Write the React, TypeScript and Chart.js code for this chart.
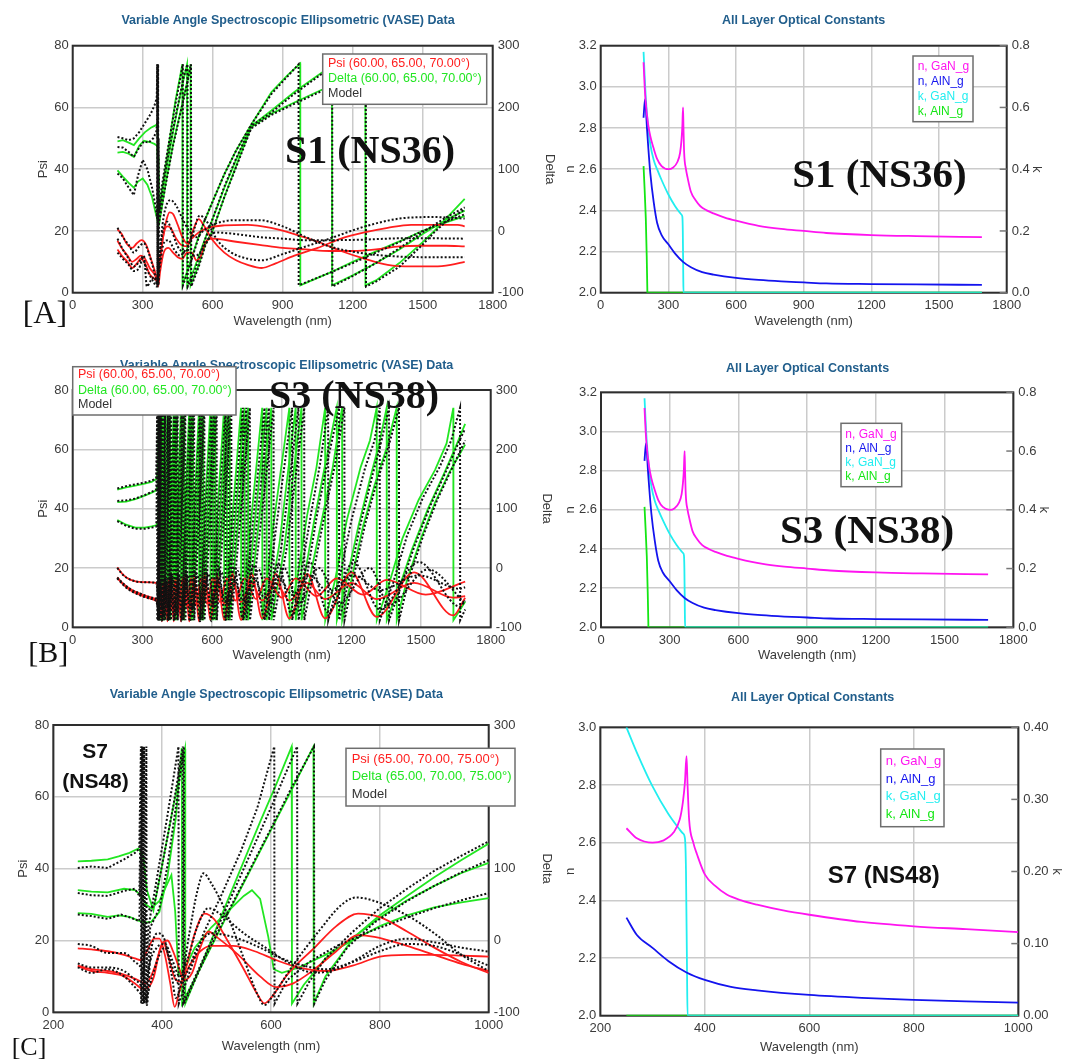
import React, { useEffect, useRef } from "react";
import { Chart, registerables } from "chart.js";

Chart.register(...registerables);
Chart.defaults.font.family = '"Liberation Sans", Arial, Helvetica, sans-serif';
Chart.defaults.color = "#3a3a3a";

type Pt = [number, number];

// ===================== [A] S1 (NS36) : VASE data (60, 65, 70°) =====================
const A_PSI_1: Pt[] = [[192,20.5],[210,19],[230,16],[255,14.5],[275,16],[295,17],[315,15.5],[335,11],[352,7],[362,4],[366,2.5],[372,8],[385,17],[400,23],[415,26],[430,25.5],[450,22],[470,18],[490,16],[510,17.5],[540,19.5],[580,21],[650,21.8],[750,22],[850,21],[950,19],[1050,16.5],[1150,13.5],[1250,11],[1350,9],[1450,8.5],[1550,8.5],[1620,9],[1680,10]];
const A_PSI_2: Pt[] = [[192,16.8],[210,14.5],[235,12],[255,10],[275,11],[292,12],[310,11],[330,8],[350,6],[362,4],[366,3],[374,10],[390,19],[405,21.5],[420,21],[440,18],[465,15.5],[490,15],[515,20],[540,23.8],[560,22],[600,17],[650,13],[700,10.5],[750,9],[810,8],[870,9.5],[950,12],[1050,14.5],[1150,17.5],[1250,19.5],[1350,21],[1450,22],[1550,22],[1650,22],[1680,21.5]];
const A_PSI_3: Pt[] = [[192,14],[210,12],[235,10],[255,8],[275,9.5],[292,11],[310,9.5],[330,6],[350,4.5],[362,3.5],[366,2],[375,7],[390,13],[410,14.5],[430,13],[450,11.5],[470,11],[490,13],[510,13],[530,10.5],[550,12],[570,16.5],[600,17.5],[700,16.5],[800,15.5],[900,14.5],[1000,14],[1100,13.5],[1200,13.5],[1300,14],[1400,15],[1500,15.2],[1600,15.2],[1680,15]];
const A_DEL_1: Pt[] = [[192,145],[215,147],[240,143],[262,139],[285,150],[310,160],[335,167],[355,171],[363,173],[366,120],[368,25],[380,60],[400,110],[420,160],[440,210],[460,250],[470,270],[470.5,-88],[500,-55],[530,-20],[560,12],[600,48],[650,92],[700,130],[765,172],[852,225],[920,252],[975,271],[975.5,-88],[1100,-68],[1200,-50],[1300,-33],[1400,-17],[1500,0],[1600,14],[1680,24]];
const A_DEL_2: Pt[] = [[192,127],[215,128],[240,125],[262,120],[285,138],[305,146],[330,144],[350,141],[362,138],[366,90],[369,15],[390,75],[420,140],[450,200],[475,245],[490,270],[490.5,-88],[520,-62],[560,-20],[600,20],[650,70],[700,115],[765,170],[852,195],[950,225],[1070,257],[1111,270],[1111.5,-88],[1200,-72],[1300,-52],[1400,-30],[1500,-5],[1600,18],[1680,33]];
const A_DEL_3: Pt[] = [[192,98],[215,88],[240,78],[262,70],[280,80],[300,85],[320,75],[340,55],[355,30],[362,20],[366,10],[370,10],[400,80],[430,140],[460,190],[490,240],[505,270],[505.5,-88],[540,-55],[570,-20],[600,0],[650,55],[700,105],[765,168],[852,190],[950,208],[1070,229],[1150,248],[1254,270],[1254.5,-88],[1300,-80],[1400,-52],[1500,-18],[1550,0],[1600,20],[1680,52]];
const A_MPSI_1: Pt[] = [[192,21],[215,18],[240,15.5],[262,13],[285,15],[305,16],[325,13],[345,8],[358,4],[365,2],[372,10],[385,22],[400,28],[420,30],[445,28],[470,24],[500,20],[530,18],[560,20],[600,22],[700,23.5],[800,23.5],[900,21.5],[1000,18],[1100,15],[1250,12.7],[1400,11.7],[1550,11.5],[1680,11.5]];
const A_MPSI_2: Pt[] = [[192,17.5],[215,14],[240,11],[262,8.5],[285,10],[305,12],[318,2],[335,4],[350,5],[360,3],[366,5],[375,14],[390,21],[405,23],[425,20],[450,15],[480,13],[510,18],[545,25],[575,23],[620,17],[680,13],[750,11],[810,10.5],[900,12.5],[1000,15],[1100,17.5],[1250,21.4],[1400,24],[1550,24.5],[1680,24]];
const A_MPSI_3: Pt[] = [[192,13],[215,11],[240,9],[262,7],[285,8],[300,11],[315,8],[335,5],[350,3],[360,2],[366,4],[376,10],[390,16],[410,17],[435,14],[460,12],[490,14],[520,12],[540,12.5],[570,16],[610,19.5],[700,19],[800,18],[900,17.5],[1000,17],[1100,17],[1250,17.2],[1400,17.6],[1550,17.6],[1680,17.5]];
const A_MDEL_1: Pt[] = [[192,152],[215,150],[240,147],[262,150],[285,160],[310,175],[335,190],[352,205],[360,215],[363,270],[363.5,-88],[365,270],[365.5,-88],[368,150],[371,30],[380,68],[400,115],[420,160],[440,205],[460,245],[472,270],[472.5,-88],[500,-58],[530,-22],[560,12],[600,48],[650,92],[700,130],[765,172],[852,222],[920,250],[968,270],[968.5,-88],[1100,-68],[1200,-52],[1300,-35],[1400,-18],[1500,0],[1600,15],[1680,27]];
const A_MDEL_2: Pt[] = [[192,136],[215,135],[240,128],[262,120],[285,135],[305,145],[325,143],[345,150],[358,160],[362,175],[363,270],[364,-88],[366,270],[367,-88],[370,20],[390,80],[420,145],[450,202],[475,248],[492,270],[493,-90],[520,-68],[560,-22],[600,20],[650,72],[700,117],[765,170],[852,192],[950,222],[1070,255],[1112,270],[1113,-90],[1200,-73],[1300,-52],[1400,-28],[1500,-2],[1600,22],[1680,38]];
const A_MDEL_3: Pt[] = [[192,93],[215,85],[240,70],[262,58],[280,90],[300,115],[320,100],[340,70],[355,40],[362,20],[364,270],[365,-88],[368,10],[400,78],[430,138],[460,188],[490,238],[507,270],[508,-90],[540,-58],[570,-22],[600,2],[650,55],[700,103],[765,166],[852,188],[950,206],[1070,227],[1150,246],[1256,270],[1257,-90],[1300,-82],[1400,-58],[1500,-22],[1550,-2],[1600,15],[1680,35]];

// ===================== [B] S3 (NS38) : VASE data (60, 65, 70°) =====================
const B_PSI_1: Pt[] = [[192,20.2],[220,17.5],[250,16],[300,15.2],[360,15],[368,12],[374,3],[379,12],[384,2],[396,15],[408,2],[421,16],[435,2],[450,16],[466,2],[484,17],[502,2],[523,17],[544,2],[568,17.5],[593,2.5],[622,17.5],[652,2.5],[688,18],[725,2.5],[770,18],[816,3],[875,18],[933,3],[1010,18],[1087,3],[1200,18.5],[1309,3.5],[1470,18.5],[1639,4],[1690,10]];
const B_PSI_2: Pt[] = [[192,16.8],[220,14.5],[250,12.8],[300,11],[340,10],[360,9.5],[370,9],[376,14],[384,5],[396,14],[408,5],[421,14.5],[435,5.5],[450,15],[466,6],[484,15],[502,6.5],[523,15],[544,7],[568,15],[593,7.5],[622,15],[652,8],[688,15],[725,8.5],[770,15],[816,9],[875,15],[933,9],[1010,15],[1087,9.5],[1200,15],[1309,9.5],[1470,15],[1639,10],[1690,10.5]];
const B_PSI_3: Pt[] = [[192,16.6],[220,14.2],[250,12.4],[300,10.6],[340,9.6],[360,9],[370,8.5],[378,4],[390,15],[402,5],[414,16],[428,6],[441,16],[457,6],[473,16.5],[491,7],[510,16.5],[531,7.5],[553,16.5],[578,8],[604,16.5],[634,8.5],[664,16.5],[700,9],[740,16.5],[790,9.5],[835,16.5],[900,10],[960,16.5],[1050,10.5],[1137,16.5],[1250,11],[1352,16],[1520,11],[1690,15.4]];
const B_DEL_1: Pt[] = [[192,132],[230,136],[270,139],[310,142],[340,145],[360,150],[366,160],[372,270],[372.5,-88],[384,270],[384.5,-88],[408,270],[408.5,-88],[435,270],[435.5,-88],[466,270],[466.5,-88],[502,270],[502.5,-88],[544,270],[544.5,-88],[593,270],[593.5,-88],[652,270],[652.5,-88],[725,270],[725.5,-88],[816,270],[816.5,-88],[860,60],[933,270],[933.5,-88],[970,-10],[1010,90],[1050,170],[1087,270],[1087.5,-88],[1130,-20],[1180,80],[1240,170],[1280,215],[1309,270],[1309.5,-88],[1360,-30],[1420,50],[1490,115],[1560,165],[1610,210],[1639,270],[1639.5,-88],[1690,-57]];
const B_DEL_2: Pt[] = [[192,111],[230,112],[270,116],[310,122],[340,127],[360,131],[368,140],[378,270],[378.5,-88],[390,270],[390.5,-88],[414,270],[414.5,-88],[441,270],[441.5,-88],[473,270],[473.5,-88],[510,270],[510.5,-88],[553,270],[553.5,-88],[604,270],[604.5,-88],[664,270],[664.5,-88],[740,270],[740.5,-88],[835,270],[835.5,-88],[890,40],[960,270],[960.5,-88],[1000,-10],[1040,80],[1090,180],[1137,270],[1137.5,-88],[1180,-20],[1230,70],[1280,150],[1320,210],[1352,270],[1352.5,-88],[1400,-40],[1460,30],[1530,100],[1600,160],[1650,205],[1690,243]];
const B_DEL_3: Pt[] = [[192,81],[230,73],[270,68],[310,68],[340,70],[360,72],[368,80],[381,270],[381.5,-88],[395,270],[395.5,-88],[420,270],[420.5,-88],[448,270],[448.5,-88],[480,270],[480.5,-88],[518,270],[518.5,-88],[562,270],[562.5,-88],[614,270],[614.5,-88],[676,270],[676.5,-88],[755,270],[755.5,-88],[855,270],[855.5,-88],[910,30],[985,270],[985.5,-88],[1030,0],[1080,95],[1120,170],[1160,270],[1160.5,-88],[1200,-20],[1250,70],[1300,140],[1350,200],[1395,270],[1395.5,-88],[1440,-20],[1500,50],[1560,110],[1620,160],[1690,208]];
const B_MPSI_1: Pt[] = [[192,20],[220,17.4],[250,16],[300,15.2],[360,15],[366,10],[371,2],[377,14],[386,2],[398,17],[410,2],[423,18],[437,2],[453,18],[469,2],[487,19],[505,2],[526,19],[548,2],[573,19.5],[598,2],[628,20],[658,2.5],[695,20.5],[733,3],[780,21],[826,3],[885,21.5],[945,4],[1020,22],[1100,5],[1210,22],[1322,6],[1490,22],[1668,7],[1690,9]];
const B_MPSI_2: Pt[] = [[192,16.8],[220,14.6],[250,12.8],[300,11.1],[340,10],[360,9.6],[368,7],[375,15],[386,6],[398,15],[410,6],[423,15],[437,6.5],[453,15.5],[469,7],[487,15.5],[505,7.5],[526,16],[548,8],[573,16],[598,8],[628,16],[658,8.5],[695,16],[733,9],[780,16.5],[826,10],[885,17],[945,11],[1020,17.5],[1100,12],[1210,17.5],[1322,12.5],[1490,17.5],[1668,13],[1690,13.5]];
const B_MPSI_3: Pt[] = [[192,16.5],[220,14.1],[250,12.3],[300,10.5],[340,9.5],[360,8.8],[368,6],[380,16],[392,4],[404,16],[417,5],[430,17],[445,5],[460,17],[477,5.5],[495,17.5],[515,6],[536,18],[558,6.5],[584,18],[610,7],[641,18.5],[671,7.5],[710,19],[748,8],[800,19.5],[845,8],[910,20],[972,8],[1060,20],[1147,8],[1280,20],[1362,7.5],[1530,19.5],[1690,8]];
const B_MDEL_1: Pt[] = [[192,134],[230,138],[270,141],[310,144],[340,147],[360,152],[364,270],[364.5,-88],[368,270],[368.5,-88],[375,270],[375.5,-88],[386,270],[386.5,-88],[410,270],[410.5,-88],[437,270],[437.5,-88],[469,270],[469.5,-88],[505,270],[505.5,-88],[548,270],[548.5,-88],[598,270],[598.5,-88],[658,270],[658.5,-88],[733,270],[733.5,-88],[826,270],[826.5,-88],[870,50],[945,270],[945.5,-88],[985,-5],[1030,100],[1065,175],[1100,270],[1100.5,-88],[1150,-15],[1200,80],[1260,170],[1300,215],[1322,270],[1322.5,-88],[1380,-25],[1440,55],[1510,120],[1580,170],[1630,215],[1668,270],[1668.5,-88],[1690,-70]];
const B_MDEL_2: Pt[] = [[192,113],[230,114],[270,117],[310,123],[340,128],[360,133],[366,270],[366.5,-88],[371,270],[371.5,-88],[380,270],[380.5,-88],[393,270],[393.5,-88],[417,270],[417.5,-88],[445,270],[445.5,-88],[477,270],[477.5,-88],[515,270],[515.5,-88],[558,270],[558.5,-88],[610,270],[610.5,-88],[671,270],[671.5,-88],[748,270],[748.5,-88],[845,270],[845.5,-88],[900,40],[972,270],[972.5,-88],[1010,-10],[1050,85],[1100,185],[1147,270],[1147.5,-88],[1190,-20],[1240,75],[1290,155],[1330,215],[1362,270],[1362.5,-88],[1410,-35],[1470,35],[1540,105],[1610,165],[1660,210],[1690,235]];
const B_MDEL_3: Pt[] = [[192,79],[230,71],[270,66],[310,66],[340,68],[360,70],[367,270],[367.5,-88],[373,270],[373.5,-88],[383,270],[383.5,-88],[398,270],[398.5,-88],[423,270],[423.5,-88],[452,270],[452.5,-88],[485,270],[485.5,-88],[523,270],[523.5,-88],[567,270],[567.5,-88],[620,270],[620.5,-88],[683,270],[683.5,-88],[763,270],[763.5,-88],[865,270],[865.5,-88],[920,30],[997,270],[997.5,-88],[1040,0],[1090,100],[1130,175],[1170,270],[1170.5,-88],[1210,-15],[1260,75],[1310,145],[1360,205],[1405,270],[1405.5,-88],[1450,-15],[1510,55],[1570,115],[1630,165],[1690,215]];

// ===================== [C] S7 (NS48) : VASE data (65, 70, 75°) =====================
const C_PSI_1: Pt[] = [[245,17.8],[270,17.5],[300,17],[330,16],[350,15],[362,14.5],[372,17],[385,20.5],[395,20.5],[405,16],[415,8],[423,1.5],[432,6],[445,13],[460,22],[478,27.5],[495,26],[520,20],[550,12],[575,5],[588,2.5],[600,4],[630,10.5],[680,18],[720,24],[760,27.5],[800,26.5],[850,22.5],[900,18],[950,14],[1000,11]];
const C_PSI_2: Pt[] = [[245,13],[270,12],[300,11.5],[330,10.5],[355,9],[370,8],[385,12],[400,19],[410,20],[420,17],[432,12],[440,9],[455,11],[470,18],[485,22.5],[500,21],[540,16],[580,10],[610,7],[640,8],[680,12],[720,17],[760,21.5],[790,21],[850,18.5],[900,16],[950,13.5],[1000,11.5]];
const C_PSI_3: Pt[] = [[245,12.8],[270,11.5],[300,11],[330,10],[350,8],[365,6.5],[375,7],[385,10],[395,17],[402,19.5],[412,15],[425,9],[435,8.5],[450,13],[470,17],[490,18.5],[530,18.5],[570,17],[610,14.5],[650,12.5],[700,11.5],[750,13],[800,15.5],[850,16],[900,16],[950,15.8],[1000,15.5]];
const C_DEL_1: Pt[] = [[245,110],[270,111],[300,113],[320,117],[340,122],[356,128],[365,118],[372,70],[384,42],[400,105],[420,185],[442,267],[442.5,-88],[500,18],[540,92],[580,165],[610,218],[638,270],[638.5,-88],[660,-62],[700,-25],[753,5],[800,35],[850,62],[900,88],[950,112],[1000,135]];
const C_DEL_2: Pt[] = [[245,70],[270,68],[300,67],[330,72],[350,70],[362,62],[370,50],[380,45],[395,55],[410,80],[417,91],[424,40],[430,-48],[440,-42],[460,-10],[490,18],[520,40],[550,62],[565,70],[580,58],[595,5],[605,-40],[620,-45],[650,-38],[700,-20],[750,0],[800,20],[850,35],[900,46],[950,53],[1000,59]];
const C_DEL_3: Pt[] = [[245,38],[270,37],[300,33],[320,35],[340,33],[355,28],[368,25],[380,26],[395,40],[410,90],[425,170],[436,268],[436.5,-88],[480,-24],[520,36],[560,95],[600,154],[640,213],[678,270],[678.5,-88],[700,-50],[753,5],[800,32],[850,56],[900,76],[950,94],[1000,108]];
const C_MPSI_1: Pt[] = [[245,19],[270,18.5],[300,16.5],[330,16.5],[350,14],[362,12],[368,8],[372,2],[378,15],[392,22],[405,20],[418,10],[425,4],[435,8],[450,22],[465,34],[476,38.7],[490,36],[520,27],[550,15],[575,5],[588,2],[605,5],[640,13],[690,23],[730,30],[757,32],[790,31],[850,27],[900,22],[950,16],[1000,11.5]];
const C_MPSI_2: Pt[] = [[245,13.6],[270,12.5],[300,12.5],[330,11.5],[350,9],[362,7],[368,3],[375,12],[390,18],[405,19],[420,14],[432,10],[445,14],[465,24],[485,29],[510,27],[550,22],[590,18],[630,14],[680,11],[720,12],[760,15],[800,18.5],[850,20.5],[900,19.5],[950,18],[1000,16.9]];
const C_MPSI_3: Pt[] = [[245,12.5],[270,11],[300,12],[330,10],[350,7],[362,5],[370,4],[380,9],[395,16],[405,18],[418,13],[430,8],[445,11],[465,18],[490,22],[530,21],[580,18],[620,15],[660,13],[700,12],[750,14],[800,17],[850,19],[900,18.5],[950,16],[1000,13]];
const C_MDEL_1: Pt[] = [[245,101],[270,103],[300,101],[330,113],[350,122],[358,128],[361,270],[361.5,-88],[364,270],[364.5,-88],[370,40],[385,48],[400,105],[420,185],[438,270],[438.5,-88],[500,15],[550,100],[600,185],[648,270],[648.5,-88],[670,-58],[700,-25],[750,12],[800,45],[850,72],[900,97],[950,118],[1000,138]];
const C_MDEL_2: Pt[] = [[245,66],[270,63],[300,62],[330,69],[350,72],[358,62],[363,270],[363.5,-88],[367,270],[367.5,-88],[375,20],[390,85],[410,175],[430,270],[430.5,-88],[450,-45],[476,10],[510,65],[545,125],[575,185],[606,270],[606.5,-88],[630,-55],[670,-30],[720,-8],[780,12],[850,32],[900,45],[950,56],[1000,66]];
const C_MDEL_3: Pt[] = [[245,36],[270,34],[300,30],[325,36],[345,31],[358,27],[366,270],[366.5,-88],[371,270],[371.5,-88],[378,18],[395,45],[410,105],[425,185],[440,270],[440.5,-88],[480,-22],[520,38],[560,97],[600,156],[640,216],[679,270],[679.5,-88],[700,-55],[740,-10],[790,25],[850,55],[900,76],[950,95],[1000,112]];

// ===================== Optical constants (n, k of GaN_g and AlN_g) =====================
const N_GAN: Pt[] = [[190,3.12],[195,3.0],[200,2.92],[210,2.82],[220,2.76],[235,2.70],[250,2.65],[270,2.615],[300,2.60],[320,2.607],[340,2.635],[352,2.68],[358,2.74],[362,2.81],[365,2.90],[367,2.80],[370,2.68],[378,2.60],[385,2.56],[400,2.49],[420,2.45],[442,2.42],[470,2.40],[500,2.385],[550,2.365],[600,2.35],[700,2.325],[800,2.31],[900,2.30],[1000,2.29],[1200,2.28],[1400,2.275],[1690,2.27]];
const N_ALN: Pt[] = [[190,2.85],[193,2.9],[197,2.94],[200,2.9],[205,2.8],[210,2.72],[220,2.58],[235,2.44],[250,2.34],[270,2.28],[300,2.235],[330,2.19],[365,2.15],[400,2.124],[450,2.10],[500,2.088],[600,2.072],[700,2.062],[800,2.055],[900,2.05],[1000,2.045],[1200,2.042],[1400,2.04],[1690,2.038]];
const K_GAN: Pt[] = [[190,0.78],[195,0.70],[200,0.63],[210,0.54],[220,0.48],[235,0.43],[250,0.40],[270,0.365],[300,0.318],[330,0.28],[350,0.26],[358,0.253],[362,0.246],[364,0.2],[366,0.06],[367,0],[1000,0],[1690,0]];
const K_ALN: Pt[] = [[190,0.41],[195,0.33],[200,0.24],[204,0.12],[207,0],[250,0],[1000,0],[1690,0]];

// ===================== Text =====================
const VASE_TITLE = "Variable Angle Spectroscopic Ellipsometric (VASE) Data";
const NK_TITLE = "All Layer Optical Constants";
const LEG_AB = ["Psi (60.00, 65.00, 70.00°)", "Delta (60.00, 65.00, 70.00°)", "Model"];
const LEG_C = ["Psi (65.00, 70.00, 75.00°)", "Delta (65.00, 70.00, 75.00°)", "Model"];
const LEG_NK = ["n, GaN_g", "n, AlN_g", "k, GaN_g", "k, AlN_g"];

// ===================== Styles =====================
const RED = "#ff1e1e";
const GREEN = "#22e622";
const MODEL = "#111111";
const MAGENTA = "#ff14f0";
const BLUE = "#1414ee";
const CYAN = "#22eef0";
const KGREEN = "#14e614";
const GRID = "#cbcbcb";
const FRAME = "#2e2e2e";
const TITLE_COLOR = "#215e8c";
const TITLE_FONT = 'bold 12.5px "Liberation Sans", Arial, sans-serif';
const SERIF_BIG = (px: number) => `bold ${px}px "Liberation Serif", "Times New Roman", serif`;
const SERIF = (px: number) => `${px}px "Liberation Serif", "Times New Roman", serif`;
const SANS_BOLD = (px: number) => `bold ${px}px "Liberation Sans", Arial, sans-serif`;
const SANS = (px: number) => `${px}px "Liberation Sans", Arial, sans-serif`;

const inRange = (pts: Pt[], lo: number, hi: number) => pts.filter((p) => p[0] >= lo && p[0] <= hi);

const line = (data: Pt[], color: string, axis: string, smooth: boolean, width = 1.8) => ({
  data,
  borderColor: color,
  backgroundColor: color,
  borderWidth: width,
  pointRadius: 0,
  yAxisID: axis,
  tension: 0,
  cubicInterpolationMode: smooth ? "monotone" : "default",
  fill: false,
});
const model = (data: Pt[], axis: string, smooth: boolean) => ({
  ...line(data, MODEL, axis, smooth, 2),
  borderDash: [2, 2],
});

interface TextItem { text: string; x: number; y: number; font: string; color: string; align?: CanvasTextAlign }
interface LegendSpec { x: number; y: number; w: number; h: number; textX: number; ys: number[]; font: string; items: { text: string; color: string }[] }
interface PanelSpec {
  id: string;
  left: number; top: number; width: number; height: number;
  area: { L: number; T: number; R: number; B: number };
  leftTitle: string; leftTitleX: number;
  rightTitle: string; rightTitleX: number;
  bottomTitleY: number;
  x: [number, number, number];
  y: [number, number, number, number];
  y2: [number, number, number, number];
  innerTicks?: boolean;
  datasets: any[];
  title: { text: string; x: number; y: number };
  legend: LegendSpec;
  labels: TextItem[];
}

const vaseDatasets = (mp: Pt[][], md: Pt[][], p: Pt[][], d: Pt[][]) => [
  ...mp.map((s) => model(s, "y", true)),
  ...md.map((s) => model(s, "y2", false)),
  ...p.map((s) => line(s, RED, "y", true)),
  ...d.map((s) => line(s, GREEN, "y2", false)),
];
const nkDatasets = (lo: number, hi: number) => [
  line(inRange(N_GAN, lo, hi), MAGENTA, "y", true, 1.8),
  line(inRange(N_ALN, lo, hi), BLUE, "y", true, 1.8),
  line(inRange(K_GAN, lo, hi), CYAN, "y2", true, 1.8),
  line(inRange(K_ALN, lo, hi), KGREEN, "y2", false, 1.8),
];
const vaseLegend = (labels: string[]) => [
  { text: labels[0], color: RED },
  { text: labels[1], color: GREEN },
  { text: labels[2], color: "#333333" },
];
const nkLegend = [
  { text: LEG_NK[0], color: MAGENTA },
  { text: LEG_NK[1], color: BLUE },
  { text: LEG_NK[2], color: CYAN },
  { text: LEG_NK[3], color: KGREEN },
];

const PANELS: PanelSpec[] = [
  {
    id: "A1", left: 0, top: 0, width: 565, height: 335,
    area: { L: 72.7, T: 45.7, R: 492.7, B: 292.7 },
    leftTitle: "Psi", leftTitleX: 43.3, rightTitle: "Delta", rightTitleX: 549.5, bottomTitleY: 321.7,
    x: [0, 1800, 300], y: [0, 80, 20, 0], y2: [-100, 300, 100, 0],
    datasets: vaseDatasets([A_MPSI_1, A_MPSI_2, A_MPSI_3], [A_MDEL_1, A_MDEL_2, A_MDEL_3], [A_PSI_1, A_PSI_2, A_PSI_3], [A_DEL_1, A_DEL_2, A_DEL_3]),
    title: { text: VASE_TITLE, x: 288, y: 20.7 },
    legend: { x: 322.7, y: 54, w: 164, h: 50.3, textX: 328, ys: [63.3, 79, 94], font: SANS(12.5), items: vaseLegend(LEG_AB) },
    labels: [
      { text: "S1 (NS36)", x: 285, y: 163, font: SERIF_BIG(40), color: "#111" },
      { text: "[A]", x: 22.7, y: 323, font: SERIF(32), color: "#111" },
    ],
  },
  {
    id: "A2", left: 540, top: 0, width: 535, height: 335,
    area: { L: 60.7, T: 45.7, R: 466.7, B: 292.7 },
    leftTitle: "n", leftTitleX: 30.7, rightTitle: "k", rightTitleX: 496.7, bottomTitleY: 321.7,
    x: [0, 1800, 300], y: [2.0, 3.2, 0.2, 1], y2: [0, 0.8, 0.2, 1], innerTicks: true,
    datasets: nkDatasets(0, 1800),
    title: { text: NK_TITLE, x: 263.7, y: 21 },
    legend: { x: 373, y: 56, w: 60, h: 65.7, textX: 377.7, ys: [66.7, 81.7, 96.7, 111.7], font: SANS(12), items: nkLegend },
    labels: [{ text: "S1 (NS36)", x: 252.3, y: 186.7, font: SERIF_BIG(41), color: "#111" }],
  },
  {
    id: "B1", left: 0, top: 335, width: 565, height: 337,
    area: { L: 72.7, T: 55, R: 490.7, B: 292.3 },
    leftTitle: "Psi", leftTitleX: 43.3, rightTitle: "Delta", rightTitleX: 546.5, bottomTitleY: 320,
    x: [0, 1800, 300], y: [0, 80, 20, 0], y2: [-100, 300, 100, 0],
    datasets: vaseDatasets([B_MPSI_1, B_MPSI_2, B_MPSI_3], [B_MDEL_1, B_MDEL_2, B_MDEL_3], [B_PSI_1, B_PSI_2, B_PSI_3], [B_DEL_1, B_DEL_2, B_DEL_3]),
    title: { text: VASE_TITLE, x: 286.7, y: 31 },
    legend: { x: 72.7, y: 31.7, w: 163.3, h: 48.3, textX: 78, ys: [40, 55.7, 70], font: SANS(12.5), items: vaseLegend(LEG_AB) },
    labels: [
      { text: "S3 (NS38)", x: 269, y: 73.3, font: SERIF_BIG(40), color: "#111" },
      { text: "[B]", x: 28.3, y: 326.7, font: SERIF(30), color: "#111" },
    ],
  },
  {
    id: "B2", left: 540, top: 335, width: 535, height: 337,
    area: { L: 61, T: 57.3, R: 473.3, B: 292.3 },
    leftTitle: "n", leftTitleX: 30.7, rightTitle: "k", rightTitleX: 503.3, bottomTitleY: 320,
    x: [0, 1800, 300], y: [2.0, 3.2, 0.2, 1], y2: [0, 0.8, 0.2, 1], innerTicks: true,
    datasets: nkDatasets(0, 1800),
    title: { text: NK_TITLE, x: 267.5, y: 33.3 },
    legend: { x: 301, y: 88.3, w: 60.7, h: 63.4, textX: 305.3, ys: [99.3, 113.3, 127.7, 141.7], font: SANS(12), items: nkLegend },
    labels: [{ text: "S3 (NS38)", x: 240, y: 207.7, font: SERIF_BIG(41), color: "#111" }],
  },
  {
    id: "C1", left: 0, top: 672, width: 565, height: 387,
    area: { L: 53.3, T: 53, R: 488.7, B: 340.3 },
    leftTitle: "Psi", leftTitleX: 23.3, rightTitle: "Delta", rightTitleX: 546.5, bottomTitleY: 374.7,
    x: [200, 1000, 200], y: [0, 80, 20, 0], y2: [-100, 300, 100, 0],
    datasets: vaseDatasets([C_MPSI_1, C_MPSI_2, C_MPSI_3], [C_MDEL_1, C_MDEL_2, C_MDEL_3], [C_PSI_1, C_PSI_2, C_PSI_3], [C_DEL_1, C_DEL_2, C_DEL_3]),
    title: { text: VASE_TITLE, x: 276.3, y: 23 },
    legend: { x: 346, y: 76.3, w: 169, h: 57.7, textX: 351.7, ys: [87.3, 104.7, 122], font: SANS(13), items: vaseLegend(LEG_C) },
    labels: [
      { text: "S7", x: 95, y: 85.7, font: SANS_BOLD(21), color: "#111", align: "center" },
      { text: "(NS48)", x: 95.5, y: 116.3, font: SANS_BOLD(21), color: "#111", align: "center" },
      { text: "[C]", x: 11.7, y: 383, font: SERIF(26), color: "#111" },
    ],
  },
  {
    id: "C2", left: 540, top: 672, width: 535, height: 387,
    area: { L: 60.3, T: 55.3, R: 478.3, B: 343.7 },
    leftTitle: "n", leftTitleX: 30.7, rightTitle: "k", rightTitleX: 516.7, bottomTitleY: 377,
    x: [200, 1000, 200], y: [2.0, 3.0, 0.2, 1], y2: [0, 0.4, 0.1, 2], innerTicks: true,
    datasets: nkDatasets(250, 1000),
    title: { text: NK_TITLE, x: 272.7, y: 25.3 },
    legend: { x: 340.7, y: 77, w: 63.3, h: 77.7, textX: 345.7, ys: [89.7, 107.3, 124.7, 142.3], font: SANS(13), items: nkLegend },
    labels: [{ text: "S7 (NS48)", x: 343.7, y: 211.3, font: SANS_BOLD(24), color: "#111", align: "center" }],
  },
];

function buildConfig(s: PanelSpec): any {
  const LH = 13 * 1.2;
  const off = LH / 2 + 4;
  const axisLeft = s.leftTitleX - off;
  const axisRight = s.rightTitleX + off;
  const axisBottom = Math.min(s.bottomTitleY + off, s.height);
  const wLeft = s.area.L - axisLeft;
  const wRight = axisRight - s.area.R;
  const hBottom = axisBottom - s.area.B;
  const tickFont = { size: 13 };
  const titleFont = { size: 13 };

  const scales: any = {
    x: {
      type: "linear", min: s.x[0], max: s.x[1],
      ticks: { stepSize: s.x[2], padding: 5, font: tickFont, color: "#3a3a3a", callback: (v: any) => String(v), maxRotation: 0, autoSkip: false },
      grid: { color: GRID, lineWidth: 1.5, drawTicks: false },
      border: { display: false },
      title: { display: true, text: "Wavelength (nm)", font: titleFont, color: "#3a3a3a", padding: { top: 4, bottom: 4 } },
      afterFit: (sc: any) => { sc.height = hBottom; },
    },
    y: {
      type: "linear", position: "left", min: s.y[0], max: s.y[1],
      ticks: { stepSize: s.y[2], padding: 4, font: tickFont, color: "#3a3a3a", callback: (v: any) => Number(v).toFixed(s.y[3]) },
      grid: { color: GRID, lineWidth: 1.5, drawTicks: false },
      border: { display: false },
      title: { display: true, text: s.leftTitle, font: titleFont, color: "#3a3a3a", padding: { top: 4, bottom: 4 } },
      afterFit: (sc: any) => { sc.width = wLeft; },
    },
    y2: {
      type: "linear", position: "right", min: s.y2[0], max: s.y2[1],
      ticks: { stepSize: s.y2[2], padding: 5, font: tickFont, color: "#3a3a3a", callback: (v: any) => Number(v).toFixed(s.y2[3]) },
      grid: { display: false, drawTicks: false },
      border: { display: false },
      title: { display: true, text: s.rightTitle, font: titleFont, color: "#3a3a3a", padding: { top: 4, bottom: 4 } },
      afterFit: (sc: any) => { sc.width = wRight; },
    },
  };

  const decor = {
    id: "decor",
    beforeDatasetsDraw(chart: any) {
      const { ctx, chartArea: a } = chart;
      ctx.save();
      ctx.strokeStyle = FRAME;
      ctx.lineWidth = 2;
      ctx.strokeRect(a.left, a.top, a.right - a.left, a.bottom - a.top);
      if (s.innerTicks) {
        const sc = chart.scales.y2;
        ctx.strokeStyle = "#777";
        ctx.lineWidth = 1.5;
        sc.ticks.forEach((t: any) => {
          const py = sc.getPixelForValue(t.value);
          ctx.beginPath();
          ctx.moveTo(a.right - 7, py);
          ctx.lineTo(a.right, py);
          ctx.stroke();
        });
      }
      ctx.restore();
    },
    afterDraw(chart: any) {
      const ctx = chart.ctx;
      ctx.save();
      ctx.font = TITLE_FONT;
      ctx.fillStyle = TITLE_COLOR;
      ctx.textAlign = "center";
      ctx.textBaseline = "middle";
      ctx.fillText(s.title.text, s.title.x, s.title.y);
      const lg = s.legend;
      ctx.fillStyle = "#ffffff";
      ctx.fillRect(lg.x, lg.y, lg.w, lg.h);
      ctx.strokeStyle = "#6e6e6e";
      ctx.lineWidth = 1.5;
      ctx.strokeRect(lg.x, lg.y, lg.w, lg.h);
      ctx.font = lg.font;
      ctx.textAlign = "left";
      ctx.textBaseline = "middle";
      lg.items.forEach((it, i) => {
        ctx.fillStyle = it.color;
        ctx.fillText(it.text, lg.textX, lg.ys[i]);
      });
      s.labels.forEach((l) => {
        ctx.font = l.font;
        ctx.fillStyle = l.color;
        ctx.textAlign = l.align || "left";
        ctx.textBaseline = "alphabetic";
        ctx.fillText(l.text, l.x, l.y);
      });
      ctx.restore();
    },
  };

  return {
    type: "line",
    data: { datasets: s.datasets },
    options: {
      animation: false,
      responsive: false,
      maintainAspectRatio: false,
      events: [],
      layout: { padding: { left: axisLeft, right: s.width - axisRight, top: s.area.T, bottom: s.height - axisBottom } },
      plugins: { legend: { display: false }, title: { display: false }, tooltip: { enabled: false } },
      scales,
    },
    plugins: [decor],
  };
}

function Panel({ spec }: { spec: PanelSpec }) {
  const ref = useRef<HTMLCanvasElement>(null);
  useEffect(() => {
    if (!ref.current) return;
    const chart = new Chart(ref.current, buildConfig(spec));
    return () => chart.destroy();
  }, [spec]);
  return (
    <canvas
      ref={ref}
      width={spec.width}
      height={spec.height}
      style={{ position: "absolute", left: spec.left, top: spec.top, width: spec.width, height: spec.height }}
    />
  );
}

export default function App() {
  return (
    <div style={{ position: "absolute", left: 0, top: 0, width: 1075, height: 1059, background: "#ffffff", overflow: "hidden" }}>
      {PANELS.map((p) => (
        <Panel key={p.id} spec={p} />
      ))}
    </div>
  );
}
